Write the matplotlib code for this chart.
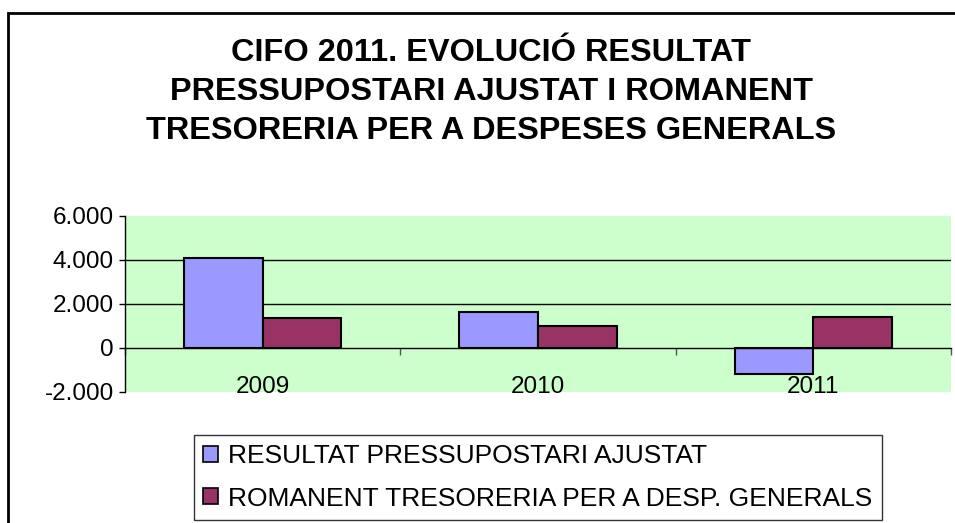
import matplotlib
matplotlib.use("Agg")
import matplotlib.pyplot as plt
import numpy as np
from matplotlib.patches import Rectangle, Patch
from matplotlib.ticker import FuncFormatter, FixedLocator

plt.rcParams['font.family'] = ['Liberation Sans', 'DejaVu Sans']

years = ['2009', '2010', '2011']
resultat = [4100, 1620, -1180]
romanent = [1360, 980, 1430]
series_names = ['RESULTAT PRESSUPOSTARI AJUSTAT',
                'ROMANENT TRESORERIA PER A DESP. GENERALS']
title = 'CIFO 2011. EVOLUCIÓ RESULTAT\nPRESSUPOSTARI AJUSTAT I ROMANENT\nTRESORERIA PER A DESPESES GENERALS'
yticks = [-2000, 0, 2000, 4000, 6000]

W, H = 955, 523
fig = plt.figure(figsize=(W/100, H/100), dpi=100)
fig.patch.set_facecolor('white')

# outer chart frame
fig.patches.append(Rectangle((8/W, -0.2), 2.0, (H-13)/H + 0.2, transform=fig.transFigure,
                             fill=False, edgecolor='black', lw=2))

left, right, top, bottom = 125, 951, 216, 392
ax = fig.add_axes([left/W, 1-bottom/H, (right-left)/W, (bottom-top)/H])
ax.set_facecolor('#CCFFCC')

x = np.arange(len(years))
w = 0.2857
ax.bar(x - w/2, resultat, w, color='#9999FF', edgecolor='black', lw=1.5, zorder=3)
ax.bar(x + w/2, romanent, w, color='#993366', edgecolor='black', lw=1.5, zorder=3)

ax.set_xlim(-0.5, 2.5)
ax.set_ylim(-2000, 6000)

for s in ['top', 'right']:
    ax.spines[s].set_visible(False)
ax.spines['left'].set_color('black')
ax.spines['left'].set_linewidth(1)
ax.spines['bottom'].set_position(('data', 0))
ax.spines['bottom'].set_color('black')
ax.spines['bottom'].set_linewidth(1)
ax.spines['bottom'].set_zorder(4)

ax.yaxis.set_major_locator(FixedLocator(yticks))
ax.yaxis.set_major_formatter(FuncFormatter(lambda v, p: f"{int(v):,}".replace(',', '.')))
ax.tick_params(axis='y', length=4, width=1, color='black', labelsize=17.5, pad=4)

ax.xaxis.set_major_locator(FixedLocator([-0.5, 0.5, 1.5, 2.5]))
ax.xaxis.set_major_formatter(FuncFormatter(lambda v, p: ''))
ax.xaxis.set_minor_locator(FixedLocator(x))
ax.set_xticks(x, years, minor=True)
ax.tick_params(axis='x', which='major', length=5, width=1, color='#555555', direction='out')
ax.tick_params(axis='x', which='minor', length=0, labelsize=17.5, pad=20)

ax.yaxis.grid(True, color='black', lw=1)
ax.set_axisbelow(True)
gl = ax.yaxis.get_gridlines()
for g, t in zip(gl, yticks):
    if t in (-2000, 0, 6000):
        g.set_visible(False)

fig.text(491/W, 1-92/H, title, ha='center', va='center', fontsize=23.4,
         fontweight='bold', linespacing=1.38)

handles = [Patch(facecolor='#9999FF', edgecolor='black', lw=1.2),
           Patch(facecolor='#993366', edgecolor='black', lw=1.2)]
leg = fig.legend(handles, series_names, loc='upper left',
                 bbox_to_anchor=(194/W, 1-435/H), fontsize=19, frameon=True,
                 fancybox=False, edgecolor='black', handlelength=0.55, handleheight=0.55,
                 handletextpad=0.4, labelspacing=0.7, borderpad=0.35, borderaxespad=0)
leg.get_frame().set_linewidth(1)

fig.savefig('out.png', dpi=100)
